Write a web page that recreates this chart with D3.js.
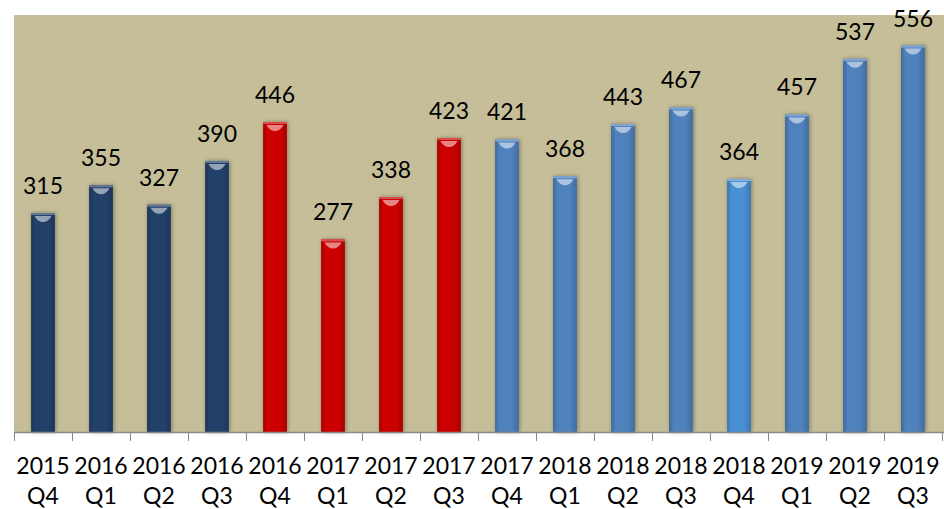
<!DOCTYPE html>
<html>
<head>
<meta charset="utf-8">
<script src="https://cdn.jsdelivr.net/npm/d3@7"></script>
<style>
  body { margin: 0; background: #fff; }
  text { font-family: Lato, "Open Sans", sans-serif; fill: #000; }
</style>
</head>
<body>
<div id="chart"></div>
<script>
var width = 944
var height = 509

var years = ["2015","2016","2016","2016","2016","2017","2017","2017","2017","2018","2018","2018","2018","2019","2019","2019"]
var quarters = ["Q4","Q1","Q2","Q3","Q4","Q1","Q2","Q3","Q4","Q1","Q2","Q3","Q4","Q1","Q2","Q3"]
var values = [315, 355, 327, 390, 446, 277, 338, 423, 421, 368, 443, 467, 364, 457, 537, 556]
var groups = ["navy","navy","navy","navy","red","red","red","red","blue","blue","blue","blue","light","blue","blue","blue"]

var groupColours = {
    navy: "#23406a",
    red: "#cc0000",
    blue: "#4f81bd",
    light: "#4a8fd3"
}

var plot = {left: 14, right: 942, top: 15, bottom: 432}

var svg = d3.select("#chart")
    .append("svg")
        .attr("width", width)
        .attr("height", height)

var defs = svg.append("defs")

// horizontal shading for each colour
Object.keys(groupColours).forEach(function(k){
    var c = d3.color(groupColours[k])
    var g = defs.append("linearGradient")
        .attr("id", "grad-" + k)
        .attr("x1", "0%").attr("x2", "100%")
    g.append("stop").attr("offset", "0%").attr("stop-color", c.darker(0.6))
    g.append("stop").attr("offset", "18%").attr("stop-color", c)
    g.append("stop").attr("offset", "70%").attr("stop-color", c)
    g.append("stop").attr("offset", "100%").attr("stop-color", c.darker(0.5))
})

var shadow = defs.append("filter").attr("id", "shadow")
    .attr("x", "-50%").attr("y", "-10%").attr("width", "200%").attr("height", "120%")
shadow.append("feDropShadow")
    .attr("dx", 1).attr("dy", 0).attr("stdDeviation", 2)
    .attr("flood-color", "#000").attr("flood-opacity", 0.35)

svg.append("rect")
    .attr("x", plot.left)
    .attr("y", plot.top)
    .attr("width", width - plot.left)
    .attr("height", plot.bottom - plot.top)
    .attr("fill", "#c5be98")

var x = d3.scaleBand()
    .domain(d3.range(values.length))
    .range([plot.left, plot.right])

var y = d3.scaleLinear()
    .domain([0, 600])
    .range([plot.bottom, plot.top])

var barW = x.bandwidth() * 0.41

var bars = svg.selectAll("g.bar")
    .data(values)
    .enter()
    .append("g")
        .attr("class", "bar")
        .attr("transform", function(d, i){ return "translate(" + (x(i) + x.bandwidth()/2) + ",0)" })

bars.append("rect")
    .attr("x", -barW/2)
    .attr("y", function(d){ return y(d) })
    .attr("width", barW)
    .attr("height", function(d){ return y(0) - y(d) })
    .attr("fill", function(d, i){ return "url(#grad-" + groups[i] + ")" })
    .attr("filter", "url(#shadow)")

// light rim along the top
bars.append("rect")
    .attr("x", -barW/2)
    .attr("y", function(d){ return y(d) })
    .attr("width", barW)
    .attr("height", 2)
    .attr("fill", function(d, i){ return d3.interpolateRgb(groupColours[groups[i]], "#fff")(0.3) })

// highlight cap
bars.append("path")
    .attr("d", function(d){
        var t = y(d) + 3
        return "M" + (-barW*0.36) + "," + t + " L" + (barW*0.36) + "," + t +
            " Q" + (barW*0.22) + "," + (t + 6) + " 0," + (t + 6) +
            " Q" + (-barW*0.22) + "," + (t + 6) + " " + (-barW*0.36) + "," + t + "Z"
    })
    .attr("fill", function(d, i){ return d3.interpolateRgb(groupColours[groups[i]], "#fff")(0.55) })
    .attr("opacity", 0.95)

bars.append("text")
    .attr("y", function(d){ return y(d) - 19 })
    .attr("text-anchor", "middle")
    .attr("font-size", 23)
    .text(function(d){ return d })

// axis line and ticks
var axis = svg.append("g")
axis.append("line")
    .attr("x1", plot.left).attr("x2", width)
    .attr("y1", plot.bottom + 0.5).attr("y2", plot.bottom + 0.5)
    .attr("stroke", "#888").attr("stroke-width", 1.5)
axis.selectAll("line.tick")
    .data(d3.range(values.length + 1))
    .enter()
    .append("line")
        .attr("class", "tick")
        .attr("x1", function(i){ return Math.round(plot.left + i * x.step()) + 0.5 })
        .attr("x2", function(i){ return Math.round(plot.left + i * x.step()) + 0.5 })
        .attr("y1", plot.bottom)
        .attr("y2", plot.bottom + 9)
        .attr("stroke", "#888")

var labels = svg.selectAll("text.cat")
    .data(values)
    .enter()
    .append("text")
        .attr("class", "cat")
        .attr("text-anchor", "middle")
        .attr("x", function(d, i){ return x(i) + x.bandwidth()/2 })
        .attr("font-size", 23)
labels.append("tspan")
    .attr("x", function(d, i){ return x(i) + x.bandwidth()/2 })
    .attr("y", 474)
    .text(function(d, i){ return years[i] })
labels.append("tspan")
    .attr("x", function(d, i){ return x(i) + x.bandwidth()/2 })
    .attr("y", 504)
    .text(function(d, i){ return quarters[i] })
</script>
</body>
</html>
